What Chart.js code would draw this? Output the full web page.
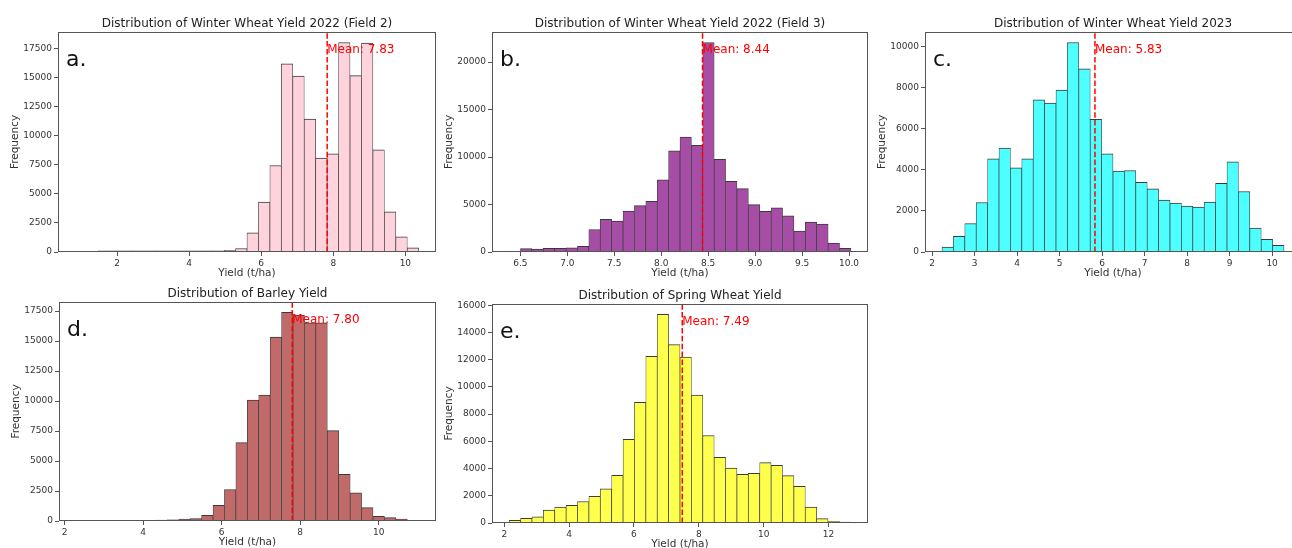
<!DOCTYPE html>
<html>
<head>
<meta charset="utf-8">
<script src="https://cdn.jsdelivr.net/npm/chart.js@4.4.1/dist/chart.umd.min.js"></script>
<style>
  html, body { margin: 0; padding: 0; background: #fff; overflow: hidden; }
  body { width: 1292px; height: 548px; position: relative; }
  canvas { position: absolute; }
</style>
</head>
<body>
<script>
// 30 bins per histogram, counts
const countsA = [50, 60, 100, 100, 100, 100, 100, 100, 100, 100, 100, 100, 110, 150, 300,
                 1650, 4300, 7450, 16200, 15150, 11450, 8100, 8450, 18050, 15200, 18000, 8800, 3450, 1300, 370]
const countsB = [0, 350, 300, 380, 380, 450, 600, 2370, 3450, 3250, 4300, 4890, 5340, 7610, 10650,
                 12110, 11240, 22060, 9770, 7430, 6670, 4990, 4290, 4640, 3800, 2200, 3140, 2930, 940, 380]
const countsC = [240, 760, 1390, 2410, 4540, 5060, 4100, 4540, 7420, 7260, 7890, 10210, 8930, 6470, 4780,
                 3940, 3970, 3400, 3080, 2530, 2380, 2240, 2190, 2430, 3350, 4390, 2950, 1170, 620, 320]
const countsD = [0, 0, 30, 40, 40, 50, 50, 80, 100, 150, 200, 470, 1300, 2630, 6530,
                 10080, 10490, 15340, 17390, 17160, 16530, 16530, 7530, 3900, 2350, 1110, 390, 280, 170, 50]
const countsE = [190, 340, 460, 950, 1170, 1290, 1580, 1950, 2510, 3510, 6140, 8870, 12250, 15320, 13100,
                 12180, 9400, 6430, 4820, 4040, 3580, 3650, 4430, 4240, 3480, 2700, 1170, 320, 120, 70]

// yield range covered by the bins
const rangeA = [0.84, 10.37]
const rangeB = [6.38, 10.02]
const rangeC = [2.23, 10.28]
const rangeD = [2.29, 11.02]
const rangeE = [2.15, 12.69]

const means = [7.83, 8.44, 5.83, 7.80, 7.49]
const titles = [
    'Distribution of Winter Wheat Yield 2022 (Field 2)',
    'Distribution of Winter Wheat Yield 2022 (Field 3)',
    'Distribution of Winter Wheat Yield 2023',
    'Distribution of Barley Yield',
    'Distribution of Spring Wheat Yield'
]
const letters = ['a.', 'b.', 'c.', 'd.', 'e.']

// tick labels
const xTicksA = [2, 4, 6, 8, 10]
const xTicksB = [6.5, 7.0, 7.5, 8.0, 8.5, 9.0, 9.5, 10.0]
const xTicksC = [2, 3, 4, 5, 6, 7, 8, 9, 10]
const xTicksD = [2, 4, 6, 8, 10]
const xTicksE = [2, 4, 6, 8, 10, 12]
const yTicksA = [0, 2500, 5000, 7500, 10000, 12500, 15000, 17500]
const yTicksB = [0, 5000, 10000, 15000, 20000]
const yTicksC = [0, 2000, 4000, 6000, 8000, 10000]
const yTicksD = [0, 2500, 5000, 7500, 10000, 12500, 15000, 17500]
const yTicksE = [0, 2000, 4000, 6000, 8000, 10000, 12000, 14000, 16000]

// layout: plot box [left, top, right, bottom] in page px, x limits, bar colour
const panels = [
    { counts: countsA, range: rangeA, xTicks: xTicksA, yTicks: yTicksA, box: [58, 32, 436, 252], xlim: [0.36, 10.85], fill: '#ffd3db', dec: 0 },
    { counts: countsB, range: rangeB, xTicks: xTicksB, yTicks: yTicksB, box: [492, 32, 868, 252], xlim: [6.198, 10.202], fill: '#a64da6', dec: 1 },
    { counts: countsC, range: rangeC, xTicks: xTicksC, yTicks: yTicksC, box: [925, 32, 1301, 252], xlim: [1.83, 10.68], fill: '#4dffff', dec: 0 },
    { counts: countsD, range: rangeD, xTicks: xTicksD, yTicks: yTicksD, box: [59, 302, 436, 521], xlim: [1.86, 11.46], fill: '#c06a6a', dec: 0 },
    { counts: countsE, range: rangeE, xTicks: xTicksE, yTicks: yTicksE, box: [492, 304, 868, 523], xlim: [1.62, 13.22], fill: '#ffff4d', dec: 0 }
]

const tickFont = { family: 'DejaVu Sans', size: 9 }
const labelFont = { family: 'DejaVu Sans', size: 10.5 }

function binCenters(range, n) {
    const w = (range[1] - range[0]) / n
    return Array.from({ length: n }, (_, i) => range[0] + (i + 0.5) * w)
}

function decor(p, i) {
    return {
        id: 'decor' + i,
        afterDatasetsDraw(chart) {
            const ctx = chart.ctx
            const ca = chart.chartArea
            const x = chart.scales.x
            const y = chart.scales.y
            const mx = x.getPixelForValue(means[i])
            ctx.save()
            // mean line
            ctx.strokeStyle = 'red'
            ctx.lineWidth = 1.5
            ctx.setLineDash([5.5, 2.4])
            ctx.beginPath()
            ctx.moveTo(mx, ca.bottom)
            ctx.lineTo(mx, ca.top)
            ctx.stroke()
            ctx.setLineDash([])
            ctx.fillStyle = 'red'
            ctx.font = '12px "DejaVu Sans"'
            ctx.textAlign = 'left'
            ctx.textBaseline = 'alphabetic'
            ctx.fillText('Mean: ' + means[i].toFixed(2), mx, y.getPixelForValue(Math.max(...p.counts) * 0.95))
            // frame
            ctx.strokeStyle = '#555'
            ctx.lineWidth = 1
            ctx.strokeRect(ca.left + 0.5, ca.top + 0.5, ca.right - ca.left - 1, ca.bottom - ca.top - 1)
            // title
            ctx.fillStyle = '#222'
            ctx.font = '12px "DejaVu Sans"'
            ctx.textAlign = 'center'
            ctx.fillText(titles[i], (ca.left + ca.right) / 2, ca.top - 5)
            // panel letter
            ctx.fillStyle = '#111'
            ctx.font = '22px "DejaVu Sans"'
            ctx.textAlign = 'left'
            ctx.fillText(letters[i], ca.left + 8, ca.top + 34)
            ctx.restore()
        }
    }
}

panels.forEach(function (p, i) {
    const [L, T, R, B] = p.box
    const canvas = document.createElement('canvas')
    canvas.width = R - L + 64
    canvas.height = B - T + 64
    canvas.style.left = (L - 58) + 'px'
    canvas.style.top = (T - 32) + 'px'
    canvas.style.width = canvas.width + 'px'
    canvas.style.height = canvas.height + 'px'
    document.body.appendChild(canvas)

    const centers = binCenters(p.range, p.counts.length)

    new Chart(canvas.getContext('2d'), {
        type: 'bar',
        data: {
            datasets: [{
                data: p.counts.map((c, k) => ({ x: centers[k], y: c })),
                backgroundColor: p.fill,
                borderColor: '#3a3a3a',
                borderWidth: { top: 1, left: 0.7, right: 0.7, bottom: 0 },
                barPercentage: 1,
                categoryPercentage: 1
            }]
        },
        options: {
            responsive: false,
            animation: false,
            devicePixelRatio: 1,
            events: [],
            layout: { padding: { top: 32, right: 6, left: 0, bottom: 0 } },
            plugins: { legend: { display: false }, tooltip: { enabled: false } },
            scales: {
                x: {
                    type: 'linear',
                    min: p.xlim[0],
                    max: p.xlim[1],
                    offset: false,
                    afterBuildTicks: s => { s.ticks = p.xTicks.map(v => ({ value: v })) },
                    afterFit: s => { s.height = 32 },
                    grid: { offset: false, drawOnChartArea: false, tickLength: 4, color: '#555' },
                    border: { display: false },
                    ticks: {
                        autoSkip: false, maxRotation: 0, padding: 2, color: '#333', font: tickFont,
                        callback: v => v.toFixed(p.dec)
                    },
                    title: { display: true, text: 'Yield (t/ha)', color: '#333', font: labelFont, padding: { top: 0, bottom: 4.2 } }
                },
                y: {
                    min: 0,
                    max: Math.max(...p.counts) * 1.05,
                    afterBuildTicks: s => { s.ticks = p.yTicks.map(v => ({ value: v })) },
                    afterFit: s => { s.width = 58 },
                    grid: { drawOnChartArea: false, tickLength: 4, color: '#555' },
                    border: { display: false },
                    ticks: { autoSkip: false, padding: 2, color: '#333', font: tickFont, callback: v => String(v) },
                    title: { display: true, text: 'Frequency', color: '#333', font: labelFont, padding: { top: 8.7, bottom: 0 } }
                }
            }
        },
        plugins: [decor(p, i)]
    })
})
</script>
</body>
</html>
